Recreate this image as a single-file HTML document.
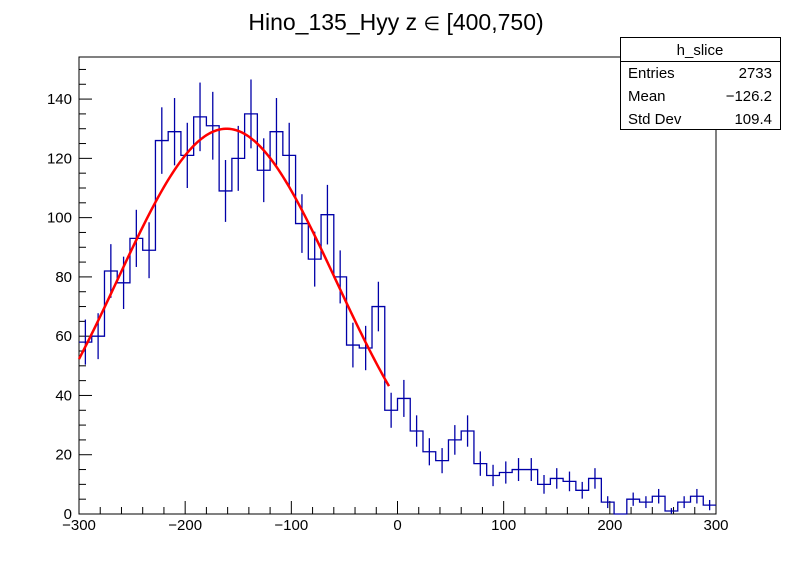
<!DOCTYPE html>
<html><head><meta charset="utf-8"><style>
body{margin:0;background:#fff}
svg{display:block;font-family:"Liberation Sans",sans-serif}
</style></head><body>
<svg id="c" width="796" height="572">
<rect x="0" y="0" width="796" height="572" fill="#fff"/>
<text x="396" y="30" font-size="23" text-anchor="middle">Hino_135_Hyy z  <tspan font-size="19">∈</tspan> [400,750)</text>
<rect x="79" y="57" width="637" height="457" fill="none" stroke="#000" stroke-width="1"/>
<g id="axes"></g>
<g id="hist"></g>
<g id="fit"></g>
<g>
<rect x="620.5" y="37.5" width="160" height="92" fill="#fff" stroke="#000"/>
<line x1="620" y1="61.5" x2="780" y2="61.5" stroke="#000"/>
<text x="700" y="55" font-size="15" text-anchor="middle">h_slice</text>
<text x="628" y="78" font-size="15">Entries</text><text x="772" y="78" font-size="15" text-anchor="end">2733</text>
<text x="628" y="101" font-size="15">Mean</text><text x="772" y="101" font-size="15" text-anchor="end">−126.2</text>
<text x="628" y="124" font-size="15">Std Dev</text><text x="772" y="124" font-size="15" text-anchor="end">109.4</text>
</g>
</svg>
<script>
const binCounts=[58,60,82,78,93,89,126,129,121,134,131,109,120,135,116,129,121,98,86,101,80,57,56,70,35,39,28,21,18,25,28,17,13,14,15,15,10,12,11,8,12,4,0,5,4,6,1,4,6,3];
const xTicks=[-300,-200,-100,0,100,200,300];
const yTicks=[0,20,40,60,80,100,120,140];
const fitParams=[130,-161,103];
const fitRange=[-300,-8];
const xMin=-300,xMax=300,yMax=154.2;
const L=79,R=716,T=57,B=514;
const sx=v=>L+(v-xMin)/(xMax-xMin)*(R-L);
const sy=v=>B-v/yMax*(B-T);
const NS='http://www.w3.org/2000/svg';
function mk(tag,attrs,parent){const e=document.createElementNS(NS,tag);for(const k in attrs)e.setAttribute(k,attrs[k]);parent.appendChild(e);return e;}
const ax=document.getElementById('axes');
for(let v=xMin;v<=xMax;v+=20){const major=(v%100===0);
 const t=mk('line',{x1:sx(v),x2:sx(v),y1:B,y2:B-(major?13:7),stroke:'#000'},ax);
 
 }
xTicks.forEach(v=>{const t=mk('text',{x:sx(v),y:B+16,'font-size':15,'text-anchor':'middle'},ax);t.textContent=(v<0?'−'+(-v):v);
 
 });
for(let v=0;v<=yMax;v+=5){const major=(v%20===0);
 const t=mk('line',{x1:L,x2:L+(major?13:7),y1:sy(v),y2:sy(v),stroke:'#000'},ax);
 
 }
yTicks.forEach(v=>{const t=mk('text',{x:L-7,y:sy(v)+5,'font-size':15,'text-anchor':'end'},ax);t.textContent=v;
 
 });
const hg=document.getElementById('hist');
const w=(xMax-xMin)/binCounts.length;
let d='';
binCounts.forEach((n,i)=>{const x0=sx(xMin+i*w),x1=sx(xMin+(i+1)*w),y=sy(n);
 d+=(i===0?'M'+x0+' '+y:'V'+y)+'H'+x1;
 const xc=sx(xMin+(i+0.5)*w),e=Math.sqrt(n);
 if(n>0){const eb=mk('line',{x1:xc,x2:xc,y1:sy(n+e),y2:Math.min(B,sy(n-e)),stroke:'#0000a8','stroke-width':1.3},hg);
 
 }
});
const p=mk('path',{d:d,fill:'none',stroke:'#0000a8','stroke-width':1.3},hg);


const fg=document.getElementById('fit');
let fd='';
for(let x=fitRange[0];x<=fitRange[1];x+=2){const y=fitParams[0]*Math.exp(-Math.pow(x-fitParams[1],2)/(2*fitParams[2]*fitParams[2]));fd+=(fd?'L':'M')+sx(x)+' '+sy(y);}
const f=mk('path',{d:fd,fill:'none',stroke:'#ff0000','stroke-width':2.5},fg);


</script>
</body></html>
